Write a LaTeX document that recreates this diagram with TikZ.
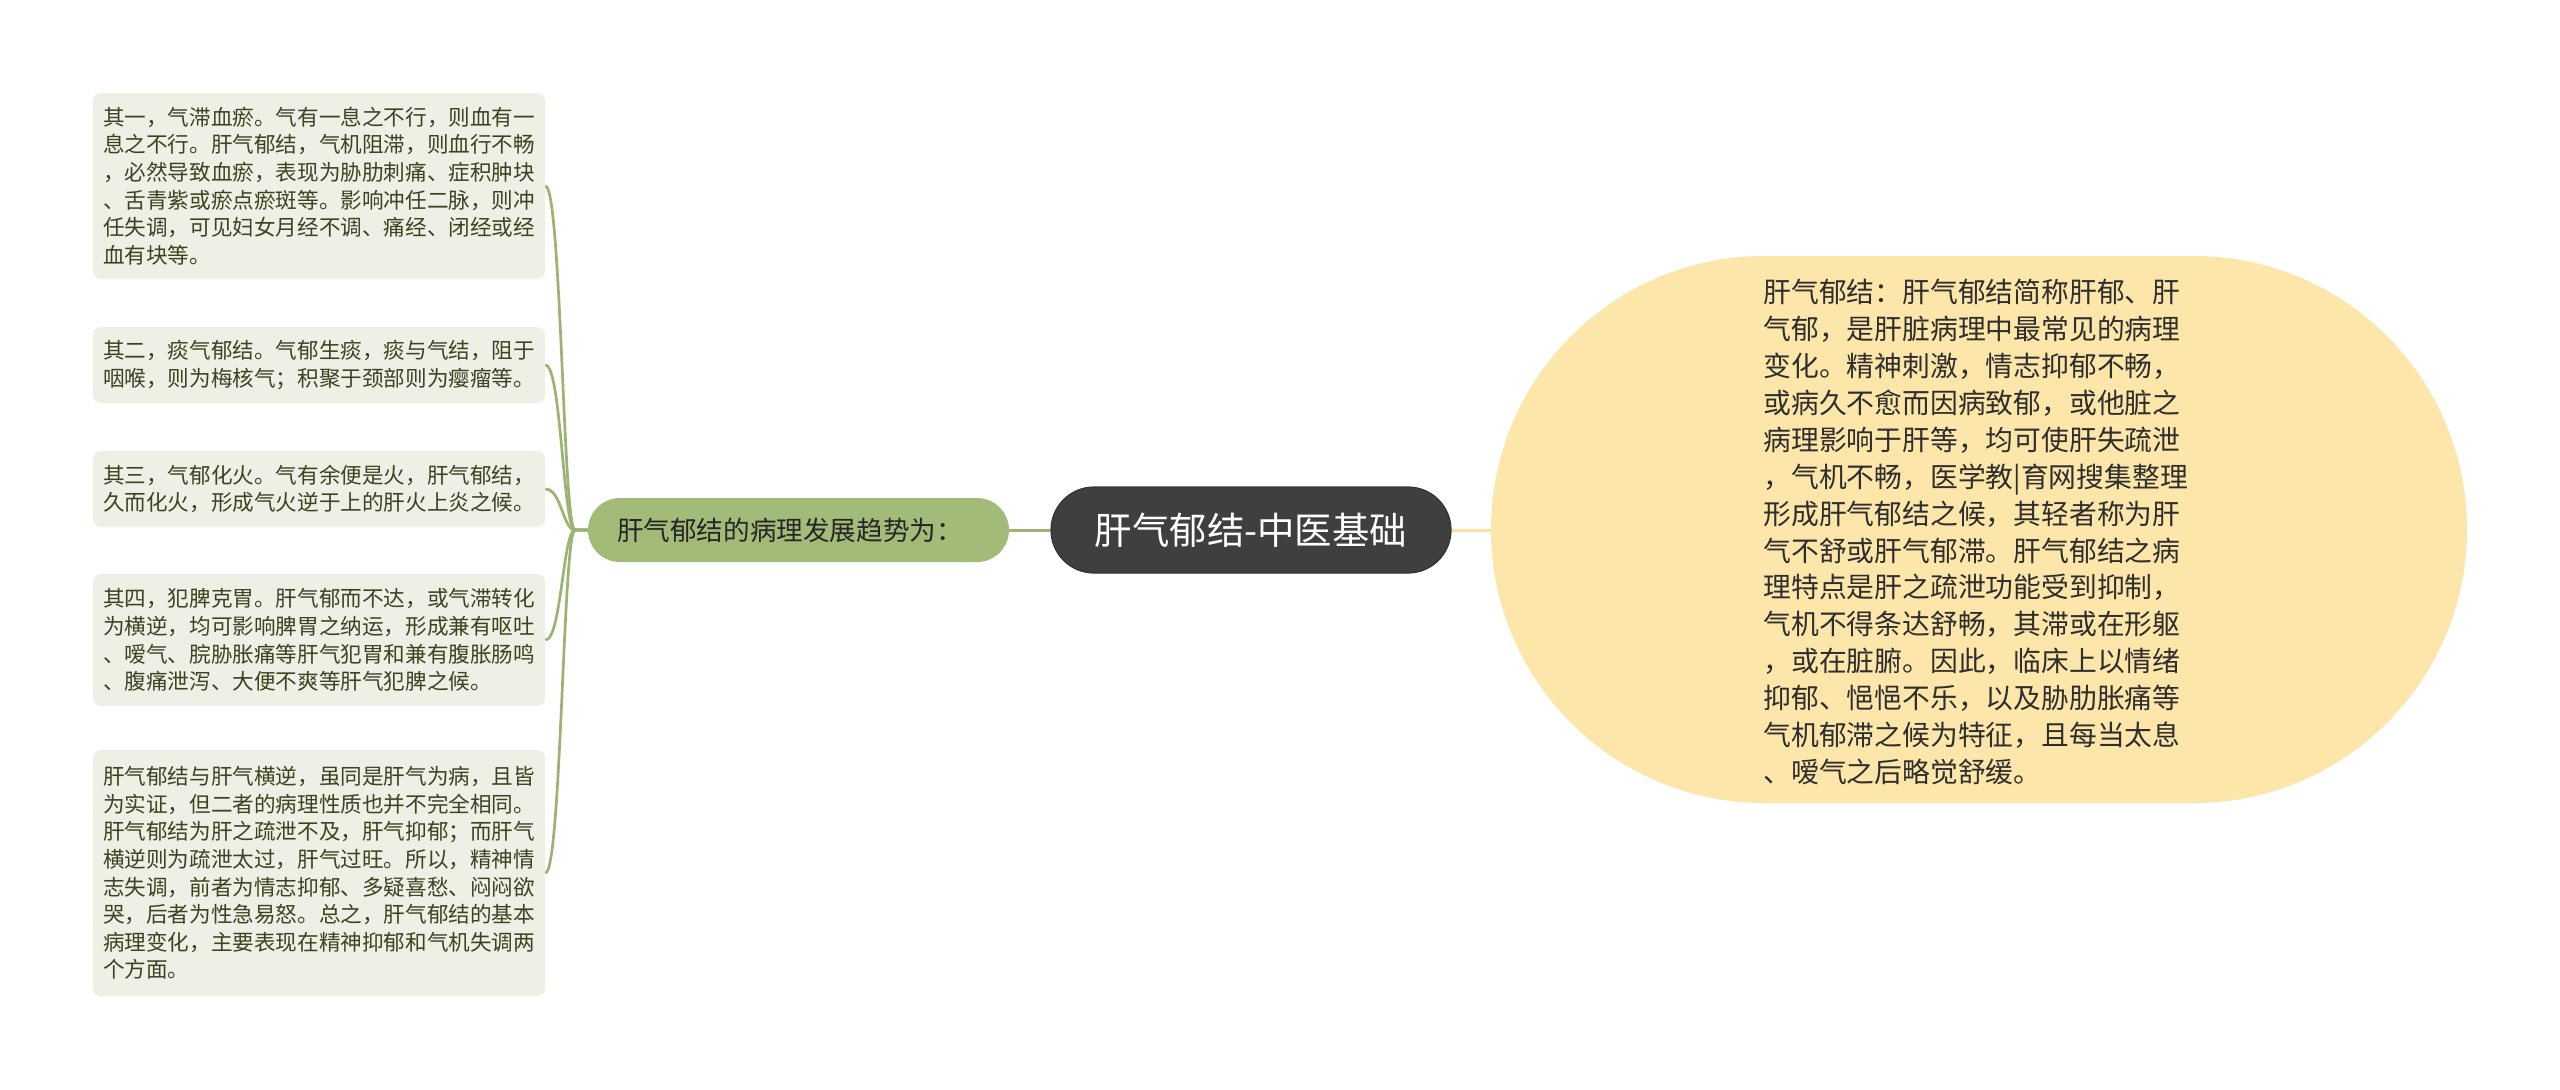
\documentclass[tikz,border=0pt]{standalone}
\usepackage{fontspec}
\setmainfont{Noto Sans CJK SC}
\usetikzlibrary{calc}
\definecolor{boxfill}{HTML}{EDF0E4}
\definecolor{boxtext}{HTML}{3E4221}
\definecolor{gfill}{HTML}{A3BB78}
\definecolor{gline}{HTML}{9CB472}
\definecolor{cfill}{HTML}{3F3F3F}
\definecolor{yfill}{HTML}{FDE6A9}
\definecolor{yline}{HTML}{FBE2A0}
\definecolor{rtext}{HTML}{2E2E2E}
\begin{document}
\begin{tikzpicture}[x=0.5pt,y=-0.5pt,
  lbox/.style={fill=boxfill, rounded corners=4pt, text=boxtext, align=left,
    font=\fontsize{10.8pt}{13.8pt}\selectfont, minimum width=226pt,
    inner xsep=5pt, inner ysep=0pt},
  gnode/.style={fill=gfill, rounded corners=16pt, minimum height=32pt,
    text width=181.5pt, inner xsep=14.5pt, inner ysep=0pt, align=left,
    text=black!85, font=\fontsize{13.3pt}{16pt}\selectfont},
  cnode/.style={fill=cfill, draw=black!80, line width=0.6pt, rounded corners=21.5pt,
    minimum width=200pt, minimum height=43pt, inner sep=0pt, text=white,
    font=\fontsize{18.7pt}{22pt}\selectfont},
  rnode/.style={align=left, inner sep=0pt, text=rtext,
    font=\fontsize{13.9pt}{18.45pt}\selectfont},
  rshape/.style={fill=yfill, rounded corners=136.7pt},
  branch/.style={draw=gline, line width=1.35pt},
  gconn/.style={draw=gline, line width=1.5pt},
  yconn/.style={draw=yline, line width=1.5pt}
]
\useasboundingbox (0,0) rectangle (2560,1089);
\fill[white] (0,0) rectangle (2560,1089);

% right shape (stadium)
\path[rshape] (1491,256) rectangle (2467,803);
\coordinate (rw) at (1491,530);

\node[rnode, anchor=west] (rt) at (1763,532) {肝气郁结：肝气郁结简称肝郁、肝\\
气郁，是肝脏病理中最常见的病理\\
变化。精神刺激，情志抑郁不畅，\\
或病久不愈而因病致郁，或他脏之\\
病理影响于肝等，均可使肝失疏泄\\
，气机不畅，医学教|育网搜集整理\\
形成肝气郁结之候，其轻者称为肝\\
气不舒或肝气郁滞。肝气郁结之病\\
理特点是肝之疏泄功能受到抑制，\\
气机不得条达舒畅，其滞或在形躯\\
，或在脏腑。因此，临床上以情绪\\
抑郁、悒悒不乐，以及胁肋胀痛等\\
气机郁滞之候为特征，且每当太息\\
、嗳气之后略觉舒缓。};

% center & green
\node[cnode] (c) at (1251,530) {肝气郁结-中医基础};
\node[gnode] (g) at (798.5,530) {肝气郁结的病理发展趋势为：};

\draw[gconn] (c.west) -- (g.east);
\draw[yconn] (c.east) -- (rw);

% left boxes
\node[lbox, minimum height=93pt] (b1) at (319,186) {其一，气滞血瘀。气有一息之不行，则血有一\\
息之不行。肝气郁结，气机阻滞，则血行不畅\\
，必然导致血瘀，表现为胁肋刺痛、症积肿块\\
、舌青紫或瘀点瘀斑等。影响冲任二脉，则冲\\
任失调，可见妇女月经不调、痛经、闭经或经\\
血有块等。};
\node[lbox, minimum height=38pt] (b2) at (319,365) {其二，痰气郁结。气郁生痰，痰与气结，阻于\\
咽喉，则为梅核气；积聚于颈部则为瘿瘤等。};
\node[lbox, minimum height=38pt] (b3) at (319,489) {其三，气郁化火。气有余便是火，肝气郁结，\\
久而化火，形成气火逆于上的肝火上炎之候。};
\node[lbox, minimum height=66pt] (b4) at (319,640) {其四，犯脾克胃。肝气郁而不达，或气滞转化\\
为横逆，均可影响脾胃之纳运，形成兼有呕吐\\
、嗳气、脘胁胀痛等肝气犯胃和兼有腹胀肠鸣\\
、腹痛泄泻、大便不爽等肝气犯脾之候。};
\node[lbox, minimum height=123pt] (b5) at (319,873) {肝气郁结与肝气横逆，虽同是肝气为病，且皆\\
为实证，但二者的病理性质也并不完全相同。\\
肝气郁结为肝之疏泄不及，肝气抑郁；而肝气\\
横逆则为疏泄太过，肝气过旺。所以，精神情\\
志失调，前者为情志抑郁、多疑喜愁、闷闷欲\\
哭，后者为性急易怒。总之，肝气郁结的基本\\
病理变化，主要表现在精神抑郁和气机失调两\\
个方面。};

\coordinate (gj) at (575,530);
\foreach \b in {b1,b2,b3,b4,b5}
  \draw[branch] (g.west) -- (gj) .. controls (563,530) and ($(\b.east)+(16,0)$) .. (\b.east);
\end{tikzpicture}
\end{document}
